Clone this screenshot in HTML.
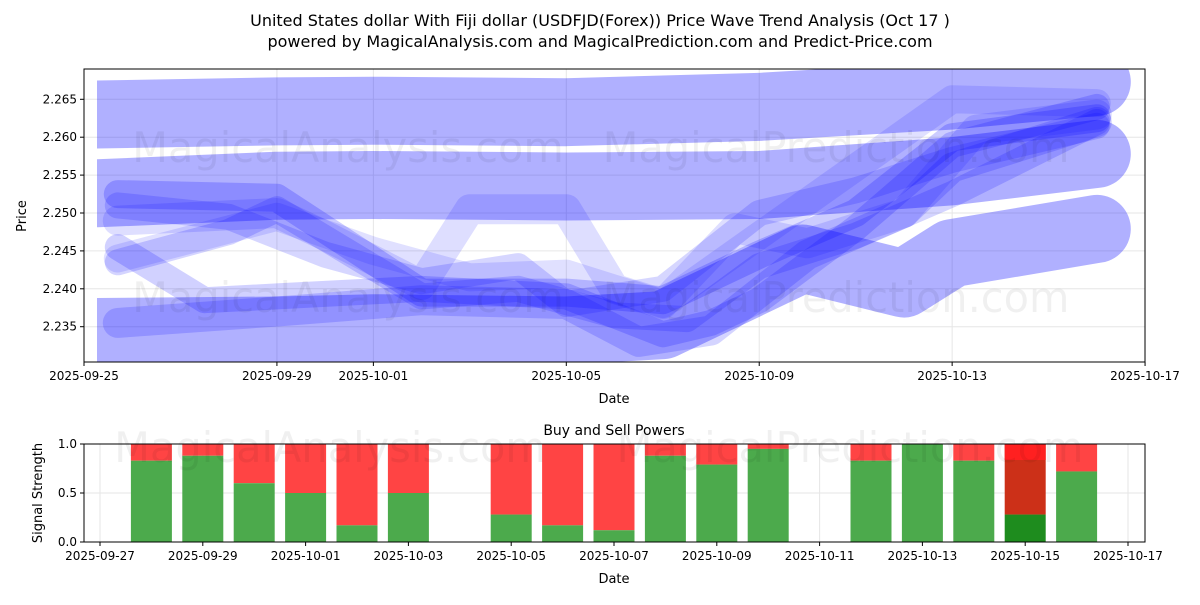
<!DOCTYPE html>
<html><head><meta charset="utf-8"><style>
body{margin:0;background:#fff;font-family:"Liberation Sans","DejaVu Sans",sans-serif}
svg text{font-family:"DejaVu Sans","Liberation Sans",sans-serif}
</style></head><body>
<svg id="c" width="1200" height="600" xmlns="http://www.w3.org/2000/svg">
<rect width="1200" height="600" fill="#fff"/>
<text x="600" y="26" text-anchor="middle" font-size="16">United States dollar With Fiji dollar (USDFJD(Forex)) Price Wave Trend Analysis (Oct 17 )</text>
<text x="600" y="47" text-anchor="middle" font-size="16">powered by MagicalAnalysis.com and MagicalPrediction.com and Predict-Price.com</text>
<g id="topPanel"></g>
<g id="botPanel"></g>
</svg>
<script>
// ---- price chart data (day offset from 2025-09-25) ----
const bandDays = [0.27, 4, 6, 10, 14, 18, 21];
const band1 = [2.2630, 2.2634, 2.2635, 2.2633, 2.2640, 2.2655, 2.2673];
const band2 = [2.2526, 2.2536, 2.2537, 2.2535, 2.2537, 2.2555, 2.2578];
const band3Days = [0.27, 4, 6, 10, 12, 14.9, 17.0, 18, 21];
const band3 = [2.2343, 2.2345, 2.2348, 2.2345, 2.2352, 2.2440, 2.2407, 2.2447, 2.2479];
const w1Days = [0.7, 4, 7, 10, 12, 14, 16, 18, 21];
const wave1 = [2.2525, 2.2520, 2.2395, 2.2395, 2.2385, 2.2445, 2.2500, 2.2600, 2.2625];
const w2Days = [0.7, 3, 4, 7, 9, 11, 12.5, 14, 16, 18, 21];
const wave2 = [2.2435, 2.2475, 2.2505, 2.2390, 2.2400, 2.2365, 2.2360, 2.2430, 2.2470, 2.2525, 2.2620];
const w3Days = [0.7, 4, 5, 7, 8, 10, 11, 12, 13.5, 15, 17, 18.5, 21];
const wave3 = [2.2490, 2.2500, 2.2470, 2.2405, 2.2505, 2.2505, 2.2400, 2.2380, 2.2480, 2.2460, 2.2500, 2.2610, 2.2630];
const w4Days = [0.7, 2.5, 4, 7, 10, 12, 13, 14, 16, 18, 21];
const wave4 = [2.2455, 2.2385, 2.2390, 2.2400, 2.2390, 2.2340, 2.2355, 2.2385, 2.2480, 2.2590, 2.2640];
const w5Days = [0.7, 4, 7, 10, 11.5, 13, 15, 17, 18, 21];
const wave5 = [2.2355, 2.2370, 2.2385, 2.2380, 2.2330, 2.2345, 2.2445, 2.2500, 2.2560, 2.2620];
const w6Days = [0.7, 4, 6, 8, 10, 12, 14, 16, 18, 21];
const wave6 = [2.2440, 2.2495, 2.2450, 2.2415, 2.2420, 2.2380, 2.2470, 2.2560, 2.2650, 2.2645];
const w7Days = [0.7, 3, 5, 7, 9, 10, 12, 14, 16, 18, 21];
const wave7 = [2.2510, 2.2495, 2.2445, 2.2410, 2.2430, 2.2380, 2.2400, 2.2500, 2.2530, 2.2570, 2.2615];
const xTickLabels = ["2025-09-25","2025-09-29","2025-10-01","2025-10-05","2025-10-09","2025-10-13","2025-10-17"];
const xTickDays = [0, 4, 6, 10, 14, 18, 22];
const yTicks = [2.235, 2.240, 2.245, 2.250, 2.255, 2.260, 2.265];
// ---- signal data ----
const sigDays = [1,2,3,4,5,6,8,9,10,11,12,13,15,16,17,18,19]; // from 2025-09-27
const buyVals = [0.83,0.88,0.60,0.50,0.17,0.50,0.28,0.17,0.12,0.88,0.79,0.95,0.83,1.00,0.83,0.28,0.72];
const sigTickLabels = ["2025-09-27","2025-09-29","2025-10-01","2025-10-03","2025-10-05","2025-10-07","2025-10-09","2025-10-11","2025-10-13","2025-10-15","2025-10-17"];
const sigTickDays = [0,2,4,6,8,10,12,14,16,18,20];
const sigYTicks = [0, 0.5, 1.0];

const NS="http://www.w3.org/2000/svg";
function mk(tag, parent, attrs){const e=document.createElementNS(NS,tag);for(const k in attrs)e.setAttribute(k,attrs[k]);parent.appendChild(e);return e;}
const topG=document.getElementById('topPanel'), botG=document.getElementById('botPanel');
const L=84,R=1145,T=69,B=362;
const px=d=>84+d*48.23;
const py=v=>99.3+(2.265-v)*7580;
const defs=mk('defs',topG,{});
const cp=mk('clipPath',defs,{id:'cp'});mk('rect',cp,{x:L,y:T,width:R-L,height:B-T});
const cpb=mk('clipPath',defs,{id:'cpb'});mk('rect',cpb,{x:px(bandDays[0]),y:T,width:R-px(bandDays[0]),height:B-T});
yTicks.forEach(v=>{const g=mk('line',topG,{x1:L,x2:R,y1:py(v),y2:py(v),stroke:'#e6e6e6'});

});
xTickDays.forEach(d=>{const g=mk('line',topG,{x1:px(d),x2:px(d),y1:T,y2:B,stroke:'#e6e6e6'});

});
const bandLayer=mk('g',topG,{'clip-path':'url(#cpb)'});
const plot=mk('g',topG,{'clip-path':'url(#cp)'});
function path(days,vals,w,op,name,band){
  const d=days.map((x,i)=>(i?'L':'M')+px(x).toFixed(1)+','+py(vals[i]).toFixed(1)).join(' ');
  const p=mk('path',band?bandLayer:plot,{d:d,fill:'none',stroke:'rgb(0,0,255)','stroke-opacity':op,'stroke-width':w,'stroke-linecap':'round','stroke-linejoin':'round'});
  
  
}
path(bandDays,band1,68,0.31,'wave-band-upper',true);
path(bandDays,band2,68,0.31,'wave-band-middle',true);
path(band3Days,band3,68,0.31,'wave-band-lower',true);
path(w1Days,wave1,28,0.2,'wave-line-1');
path(w2Days,wave2,26,0.17,'wave-line-2');
path(w3Days,wave3,30,0.13,'wave-line-3');
path(w4Days,wave4,26,0.18,'wave-line-4');
path(w5Days,wave5,30,0.17,'wave-line-5');
path(w6Days,wave6,28,0.12,'wave-line-6');
path(w7Days,wave7,26,0.16,'wave-line-7');
[['MagicalAnalysis.com',348,162],['MagicalPrediction.com',836,162],['MagicalAnalysis.com',348,312],['MagicalPrediction.com',836,312]].forEach(w=>{
 const t=mk('text',topG,{x:w[1],y:w[2],'text-anchor':'middle','font-size':41.5,fill:'#000','fill-opacity':0.06});t.textContent=w[0];
 
 });
mk('rect',topG,{x:L,y:T,width:R-L,height:B-T,fill:'none',stroke:'#000','stroke-width':1});
xTickDays.forEach((d,i)=>{mk('line',topG,{x1:px(d),x2:px(d),y1:B,y2:B+4,stroke:'#000'});
 const t=mk('text',topG,{x:px(d),y:B+18,'text-anchor':'middle','font-size':12});t.textContent=xTickLabels[i];
 
 });
yTicks.forEach(v=>{mk('line',topG,{x1:L-4,x2:L,y1:py(v),y2:py(v),stroke:'#000'});
 const t=mk('text',topG,{x:L-7,y:py(v)+4,'text-anchor':'end','font-size':12});t.textContent=v.toFixed(3);
 
 });
let t=mk('text',topG,{x:614,y:403,'text-anchor':'middle','font-size':13});t.textContent='Date';


t=mk('text',topG,{x:26,y:216,'text-anchor':'middle','font-size':13,transform:'rotate(-90 26 216)'});t.textContent='Price';



const bL=84,bR=1145,bT=444,bB=542;
const sx=d=>100+d*51.4;
const sy=v=>bB-v*(bB-bT);
sigYTicks.forEach(v=>{const g=mk('line',botG,{x1:bL,x2:bR,y1:sy(v),y2:sy(v),stroke:'#e6e6e6'});

});
sigTickDays.forEach(d=>{const g=mk('line',botG,{x1:sx(d),x2:sx(d),y1:bT,y2:bB,stroke:'#e6e6e6'});

});
sigDays.forEach((d,i)=>{
 const hl=i===15, v=buyVals[i];
 const r=mk('rect',botG,{x:sx(d)-20.5,y:sy(1),width:41,height:sy(v)-sy(1),fill:hl?'#cc3018':'#ff4444'});
 
 
 const g=mk('rect',botG,{x:sx(d)-20.5,y:sy(v),width:41,height:sy(0)-sy(v),fill:hl?'#1e8c1e':'#4caa4c'});
 
 
 if(hl){const h=mk('rect',botG,{x:sx(d)-20.5,y:sy(1),width:41,height:16,fill:'#ff2020'});
 
 }
});
[['MagicalAnalysis.com',330,462],['MagicalPrediction.com',850,462]].forEach(w=>{
 const tt=mk('text',botG,{x:w[1],y:w[2],'text-anchor':'middle','font-size':41.5,fill:'#000','fill-opacity':0.06});tt.textContent=w[0];
 
 });
mk('rect',botG,{x:bL,y:bT,width:bR-bL,height:bB-bT,fill:'none',stroke:'#000'});
sigTickDays.forEach((d,i)=>{mk('line',botG,{x1:sx(d),x2:sx(d),y1:bB,y2:bB+4,stroke:'#000'});
 const tt=mk('text',botG,{x:sx(d),y:bB+18,'text-anchor':'middle','font-size':12});tt.textContent=sigTickLabels[i];
 
 });
sigYTicks.forEach(v=>{mk('line',botG,{x1:bL-4,x2:bL,y1:sy(v),y2:sy(v),stroke:'#000'});
 const tt=mk('text',botG,{x:bL-7,y:sy(v)+4,'text-anchor':'end','font-size':12});tt.textContent=v.toFixed(1);
 
 });
t=mk('text',botG,{x:614,y:435,'text-anchor':'middle','font-size':14});t.textContent='Buy and Sell Powers';


t=mk('text',botG,{x:614,y:583,'text-anchor':'middle','font-size':13});t.textContent='Date';


t=mk('text',botG,{x:42,y:493,'text-anchor':'middle','font-size':13,transform:'rotate(-90 42 493)'});t.textContent='Signal Strength';


</script>
</body></html>
